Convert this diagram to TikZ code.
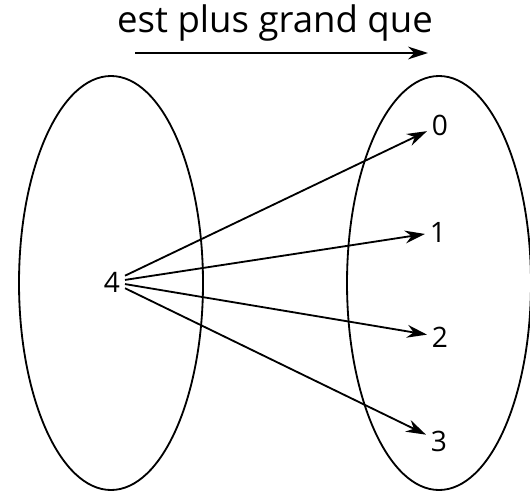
\documentclass[tikz,border=0pt]{standalone}
\usepackage{fontspec}
\setmainfont{Open Sans}
\usetikzlibrary{arrows.meta}
\tikzset{
  setline/.style={line width=1.3pt},
  maparrow/.style={line width=1.3pt,-{Stealth[length=0.5cm,width=0.32cm]}},
  elem/.style={anchor=base,font=\fontsize{20}{22}\selectfont}
}

\begin{document}
\begin{tikzpicture}[x=0.025cm,y=-0.025cm]
\path[use as bounding box] (0,0) rectangle (530,492);
\draw[setline] (111,283) ellipse (92 and 207);
\draw[setline] (439,283) ellipse (92 and 207);
\node[anchor=base,font=\fontsize{26}{28}\selectfont] (rel) at (275,33) {est plus grand que};
\coordinate (relL) at (135,53);
\coordinate (relR) at (428,53);
\draw[maparrow] (relL) -- (relR);
\node[elem] (four) at (112,292) {4};
\node[elem] (zero) at (440,135) {0};
\node[elem] (one) at (438,242) {1};
\node[elem] (two) at (440,347) {2};
\node[elem] (three) at (439,451) {3};
\draw[maparrow] (four) -- (zero);
\draw[maparrow] (four) -- (one);
\draw[maparrow] (four) -- (two);
\draw[maparrow] (four) -- (three);
\end{tikzpicture}
\end{document}
